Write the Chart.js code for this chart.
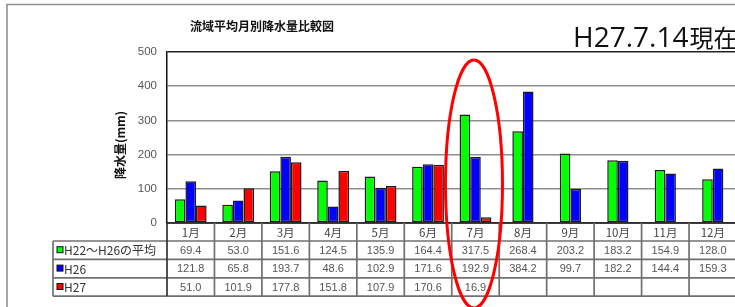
<!DOCTYPE html>
<html lang="ja">
<head>
<meta charset="UTF-8">
<title>流域平均月別降水量比較図</title>
<script src="https://cdn.jsdelivr.net/npm/chart.js@4"></script>
<style>
    html, body { margin: 0; padding: 0; background: #fff; overflow: hidden; }
    #wrap { position: relative; width: 745px; height: 307px; }
</style>
</head>
<body>
<div id="wrap"><canvas id="rainChart"></canvas></div>
<script>
const months = ['1月', '2月', '3月', '4月', '5月', '6月', '7月', '8月', '9月', '10月', '11月', '12月'];
const seriesNames = ['H22～H26の平均', 'H26', 'H27'];
const avgH22H26 = [69.4, 53.0, 151.6, 124.5, 135.9, 164.4, 317.5, 268.4, 203.2, 183.2, 154.9, 128.0];
const h26 = [121.8, 65.8, 193.7, 48.6, 102.9, 171.6, 192.9, 384.2, 99.7, 182.2, 144.4, 159.3];
const h27 = [51.0, 101.9, 177.8, 151.8, 107.9, 170.6, 16.9, null, null, null, null, null];
const yTicks = [0, 100, 200, 300, 400, 500];
const seriesColors = ['#00ff00', '#0000ff', '#ff0000'];
const seriesData = [avgH22H26, h26, h27];

const JP = '"Noto Sans CJK JP", "Noto Sans", sans-serif';

// put the bars that have a value side by side, centred on the month
const packBars = {
    id: 'packBars',
    afterDatasetsUpdate(chart) {
        const x = chart.scales.x;
        months.forEach((m, j) => {
            const bars = [];
            seriesData.forEach((d, k) => {
                if (d[j] != null) bars.push(chart.getDatasetMeta(k).data[j]);
            });
            if (!bars.length) return;
            const w = bars[0].width;
            const c = x.getPixelForValue(j);
            bars.forEach((b, k) => { b.x = c + (k - (bars.length - 1) / 2) * w; });
        });
    }
};

function line(ctx, x1, y1, x2, y2) {
    ctx.beginPath();
    ctx.moveTo(x1, y1);
    ctx.lineTo(x2, y2);
    ctx.stroke();
}

const decorations = {
    id: 'decorations',
    afterDraw(chart) {
        const { ctx, chartArea: a, scales: { x } } = chart;
        const colW = (a.right - a.left) / months.length;
        ctx.save();

        // slide frame
        ctx.strokeStyle = '#8c8c8c';
        ctx.lineWidth = 1.5;
        ctx.beginPath();
        ctx.moveTo(7, chart.height);
        ctx.lineTo(7, 4.5);
        ctx.lineTo(chart.width, 4.5);
        ctx.stroke();

        // title
        ctx.fillStyle = '#111';
        ctx.font = 'bold 12px ' + JP;
        ctx.textAlign = 'center';
        ctx.textBaseline = 'middle';
        ctx.fillText('流域平均月別降水量比較図', 262, 26);

        // date stamp
        ctx.textAlign = 'left';
        ctx.textBaseline = 'alphabetic';
        ctx.font = '28px "Open Sans", sans-serif';
        ctx.fillText('H27.7.14', 573, 47);
        const dw = ctx.measureText('H27.7.14').width;
        ctx.font = '24px ' + JP;
        ctx.fillText('現在', 573 + dw + 1, 47);

        // y axis title
        ctx.save();
        ctx.translate(120, 145);
        ctx.rotate(-Math.PI / 2);
        ctx.font = 'bold 12px ' + JP;
        ctx.textAlign = 'center';
        ctx.textBaseline = 'middle';
        ctx.fillStyle = '#111';
        ctx.fillText('降水量(mm)', 0, 0);
        ctx.restore();

        // plot bottom line
        ctx.strokeStyle = '#111';
        ctx.lineWidth = 1.5;
        line(ctx, a.left, a.bottom, a.right, a.bottom);

        // data table
        const headH = 18;
        const rowH = 18.4;
        const headBottom = a.bottom + headH;
        const tableBottom = headBottom + rowH * seriesNames.length;
        const tableLeft = 53;
        ctx.strokeStyle = '#707070';
        ctx.lineWidth = 1.7;
        for (let r = 0; r <= seriesNames.length; r++) {
            const y = headBottom + r * rowH;
            line(ctx, tableLeft, y, a.right, y);
        }
        for (let i = 1; i <= months.length; i++) {
            const xx = a.left + i * colW;
            line(ctx, xx, a.bottom, xx, tableBottom);
        }
        line(ctx, tableLeft, headBottom, tableLeft, tableBottom);
        ctx.strokeStyle = '#333';
        line(ctx, a.left, a.bottom, a.left, tableBottom);

        ctx.textAlign = 'center';
        ctx.textBaseline = 'middle';
        ctx.fillStyle = '#444';
        ctx.font = '11.5px ' + JP;
        months.forEach((m, i) => ctx.fillText(m, x.getPixelForValue(i), a.bottom + headH / 2 + 0.5));

        seriesNames.forEach((name, r) => {
            const cy = headBottom + r * rowH + rowH / 2;
            // legend key
            ctx.fillStyle = seriesColors[r];
            ctx.fillRect(57, cy - 3.5, 6, 6);
            ctx.strokeStyle = '#111';
            ctx.lineWidth = 1;
            ctx.strokeRect(57, cy - 3.5, 6, 6);
            ctx.fillStyle = '#333';
            ctx.textAlign = 'left';
            ctx.font = '12px ' + JP;
            ctx.fillText(name, 64, cy + 0.5);
            // values
            ctx.textAlign = 'center';
            ctx.font = '11px "Liberation Sans", Arial, sans-serif';
            ctx.fillStyle = '#555';
            seriesData[r].forEach((v, i) => {
                if (v != null) ctx.fillText(v.toFixed(1), x.getPixelForValue(i), cy + 0.5);
            });
        });

        // red ellipse around July
        ctx.strokeStyle = '#ff0000';
        ctx.lineWidth = 3;
        ctx.beginPath();
        ctx.ellipse(x.getPixelForValue(6) - 1.5, 184, 28.5, 124, 0, 0, Math.PI * 2);
        ctx.stroke();

        ctx.restore();
    }
};

const chart = new Chart(document.getElementById('rainChart'), {
    type: 'bar',
    data: {
        labels: months,
        datasets: seriesNames.map((name, i) => ({
            label: name,
            data: seriesData[i],
            backgroundColor: seriesColors[i],
            borderColor: '#1a1a1a',
            borderWidth: 1.5,
            borderSkipped: false,
            categoryPercentage: 0.67,
            barPercentage: 1
        }))
    },
    options: {
        responsive: true,
        maintainAspectRatio: false,
        animation: false,
        layout: { padding: { left: 0, top: 52, right: 8.5, bottom: 84 } },
        plugins: {
            legend: { display: false },
            tooltip: { enabled: false }
        },
        scales: {
            x: { display: false },
            y: {
                min: 0,
                max: 500,
                afterBuildTicks(scale) { scale.ticks = yTicks.map(v => ({ value: v })); },
                afterFit(scale) { scale.width = 167; },
                ticks: {
                    padding: 10,
                    color: '#555',
                    font: { family: '"Liberation Sans", Arial, sans-serif', size: 11.5 }
                },
                grid: {
                    drawTicks: false,
                    color: c => (c.tick.value === 500 ? '#222' : '#8f8f8f'),
                    lineWidth: 1.5
                },
                border: { color: '#111', width: 1.5 }
            }
        }
    },
    plugins: [packBars, decorations]
});
</script>
</body>
</html>
